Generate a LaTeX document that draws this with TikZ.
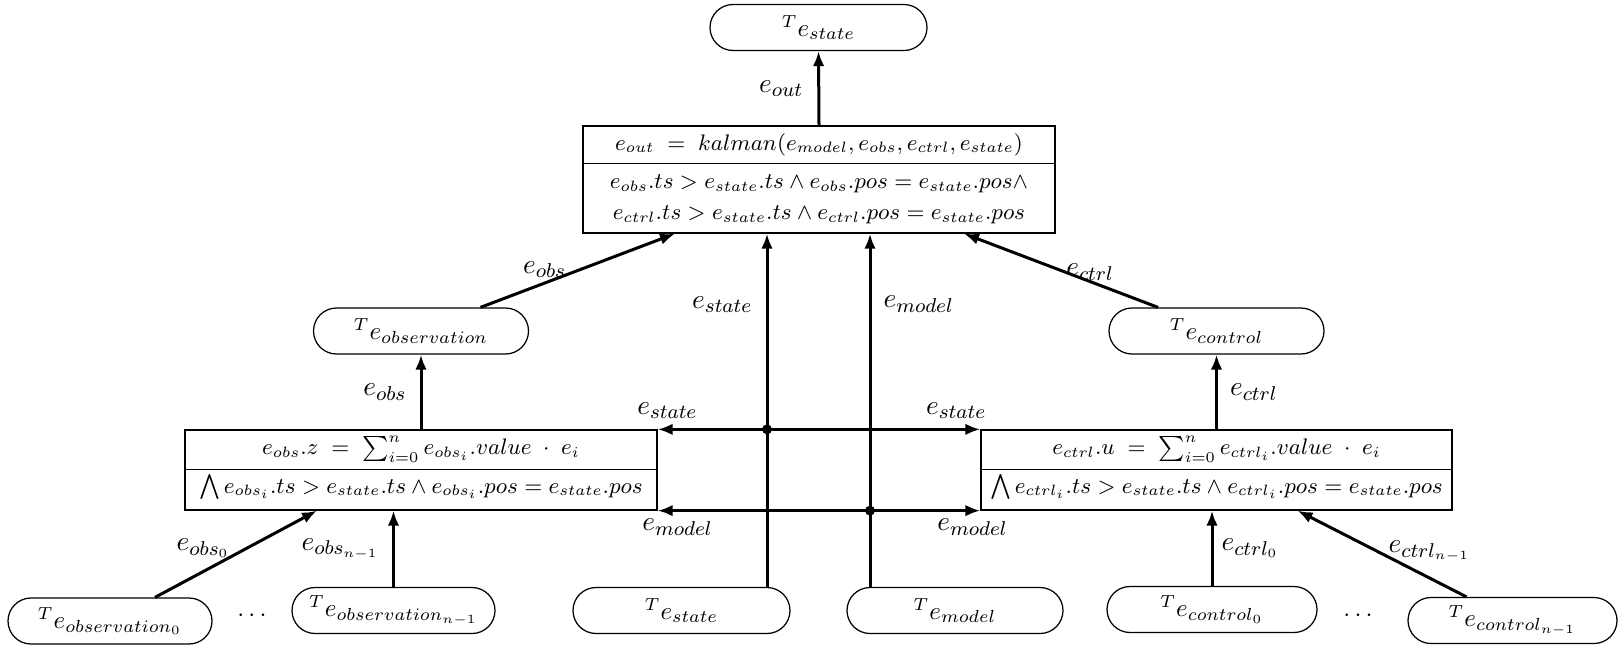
\documentclass[tikz,border=0pt]{standalone}
\usetikzlibrary{arrows.meta,calc}

\begin{document}
\begin{tikzpicture}[
  x=0.4pt, y=-0.4pt,
  tnode/.style={draw, line width=0.5pt, rounded corners=9.2pt,
    minimum height=18.4pt, minimum width=86pt, inner sep=1pt,
    font=\fontsize{10.3}{12}\selectfont},
  boxframe/.style={draw, line width=0.5pt, minimum width=188.8pt, inner sep=0pt},
  boxtext/.style={font=\fontsize{8.8}{10.5}\selectfont, inner sep=0pt},
  sepline/.style={line width=0.5pt},
  flow/.style={line width=1.2pt, -{Latex[length=6pt,width=4.6pt]}},
  elabel/.style={inner sep=0pt, font=\fontsize{10.8}{13}\selectfont},
  joint/.style={fill=black}
]
\useasboundingbox (0,0) rectangle (1618,647);

% top: state sink and the kalman block
\node[tnode, minimum width=86.8pt] (ts) at (818.5,27.5) {${}^{T}e_{state}$};
\node[boxframe, minimum height=42.8pt] (kal) at (819,179.5) {};
\node[boxtext] (kal1) at ($(kal.north)+(0,19)$)
  {$e_{out} \;=\; kalman(e_{model}, e_{obs}, e_{ctrl}, e_{state})$};
\node[boxtext] (kal2) at ($(kal.north)+(0,58.5)$)
  {$e_{obs}.ts > e_{state}.ts \wedge e_{obs}.pos = e_{state}.pos \wedge$};
\node[boxtext] (kal3) at ($(kal.north)+(0,89.5)$)
  {$e_{ctrl}.ts > e_{state}.ts \wedge e_{ctrl}.pos = e_{state}.pos$};
\draw[sepline] ($(kal.north west)+(0,38)$) -- ($(kal.north east)+(0,38)$);

% middle row: aggregated observation and control
\node[tnode] (tobs) at (421,331) {${}^{T}e_{observation}$};
\node[tnode] (tctrl) at (1216.5,331) {${}^{T}e_{control}$};

\node[boxframe, minimum height=32pt] (obs) at (421,470) {};
\node[boxtext] (obs1) at ($(obs.north)+(0,20)$)
  {$e_{obs}.z \;=\; \sum_{i=0}^{n} e_{obs_i}.value \;\cdot\; e_i$};
\node[boxtext] (obs2) at ($(obs.north)+(0,58)$)
  {$\bigwedge e_{obs_i}.ts > e_{state}.ts \wedge e_{obs_i}.pos = e_{state}.pos$};
\draw[sepline] ($(obs.north west)+(0,40)$) -- ($(obs.north east)+(0,40)$);

\node[boxframe, minimum height=32pt, minimum width=188.4pt] (ctrl) at (1216.5,470) {};
\node[boxtext] (ctrl1) at ($(ctrl.north)+(0,20)$)
  {$e_{ctrl}.u \;=\; \sum_{i=0}^{n} e_{ctrl_i}.value \;\cdot\; e_i$};
\node[boxtext] (ctrl2) at ($(ctrl.north)+(0,58)$)
  {$\bigwedge e_{ctrl_i}.ts > e_{state}.ts \wedge e_{ctrl_i}.pos = e_{state}.pos$};
\draw[sepline] ($(ctrl.north west)+(0,40)$) -- ($(ctrl.north east)+(0,40)$);

% bottom row: sources
\node[tnode, minimum width=81.6pt] (tobs0) at (110,621) {${}^{T}e_{observation_0}$};
\node[tnode, minimum width=81.2pt] (tobsn) at (393.5,610.5) {${}^{T}e_{observation_{n-1}}$};
\node[tnode, minimum width=86.8pt] (tstate2) at (681.5,610.5) {${}^{T}e_{state}$};
\node[tnode, minimum width=86.4pt] (tmodel) at (955,610.5) {${}^{T}e_{model}$};
\node[tnode, minimum width=84pt] (tctrl0) at (1212,609.5) {${}^{T}e_{control_0}$};
\node[tnode, minimum width=83.6pt] (tctrln) at (1512.5,620.5) {${}^{T}e_{control_{n-1}}$};
\node (dotsl) at (252,616) {$\cdots$};
\node (dotsr) at (1358,616) {$\cdots$};

% kalman output
\draw[flow] (kal.north) -- node[elabel, midway, anchor=east, xshift=-5.6pt] {$e_{out}$} (ts.south);

% aggregated inputs into kalman
\draw[flow] ($(tobs.north)+(59.5,0)$) -- node[elabel, pos=0.33, anchor=south, yshift=1.6pt] {$e_{obs}$} ($(kal.south)+(-144,0)$);
\draw[flow] ($(tctrl.north)+(-58.5,0)$) -- node[elabel, pos=0.35, anchor=south] {$e_{ctrl}$} ($(kal.south)+(145,0)$);

% state and model feeds
\coordinate (sfoot) at ($(tstate2.north)+(85.5,0)$);
\coordinate (mfoot) at ($(tmodel.north)+(-85,0)$);
\draw[flow] (sfoot) -- node[elabel, pos=0.8, anchor=east, xshift=-5.2pt] {$e_{state}$} (sfoot |- kal.south);
\draw[flow] (mfoot) -- node[elabel, pos=0.8, anchor=west, xshift=4.8pt] {$e_{model}$} (mfoot |- kal.south);

\coordinate (js) at (sfoot |- obs.north east);
\coordinate (jm) at (mfoot |- obs.south east);
\draw[flow] (js) -- node[elabel, pos=0.91, anchor=south, yshift=3.6pt] {$e_{state}$} (obs.north east);
\draw[flow] (js) -- node[elabel, pos=0.887, anchor=south, yshift=3.6pt] {$e_{state}$} (ctrl.north west);
\draw[flow] (jm) -- node[elabel, pos=0.906, anchor=north, yshift=-2.8pt] {$e_{model}$} (obs.south east);
\draw[flow] (jm) -- node[elabel, pos=0.93, anchor=north, yshift=-2.8pt] {$e_{model}$} (ctrl.south west);
\fill[joint] (js) circle[radius=2pt];
\fill[joint] (jm) circle[radius=2pt];

% aggregation outputs
\draw[flow] (obs.north) -- node[elabel, midway, anchor=east, xshift=-5.2pt] {$e_{obs}$} (tobs.south);
\draw[flow] (ctrl.north) -- node[elabel, midway, anchor=west, xshift=4.8pt] {$e_{ctrl}$} (tctrl.south);

% individual observations and controls
\draw[flow] ($(tobs0.north)+(45,0)$) -- node[elabel, pos=0.47, anchor=south east, yshift=-1pt] {$e_{obs_0}$} ($(obs.south)+(-104,0)$);
\draw[flow] (tobsn.north) -- node[elabel, midway, anchor=east, xshift=-5.2pt] {$e_{obs_{n-1}}$} (tobsn.north |- obs.south);
\draw[flow] (tctrl0.north) -- node[elabel, midway, anchor=west, xshift=3.2pt] {$e_{ctrl_0}$} (tctrl0.north |- ctrl.south);
\draw[flow] ($(tctrln.north)+(-46,0)$) -- node[elabel, pos=0.47, anchor=south west, yshift=-2.8pt] {$e_{ctrl_{n-1}}$} ($(ctrl.south)+(81,0)$);
\end{tikzpicture}
\end{document}
